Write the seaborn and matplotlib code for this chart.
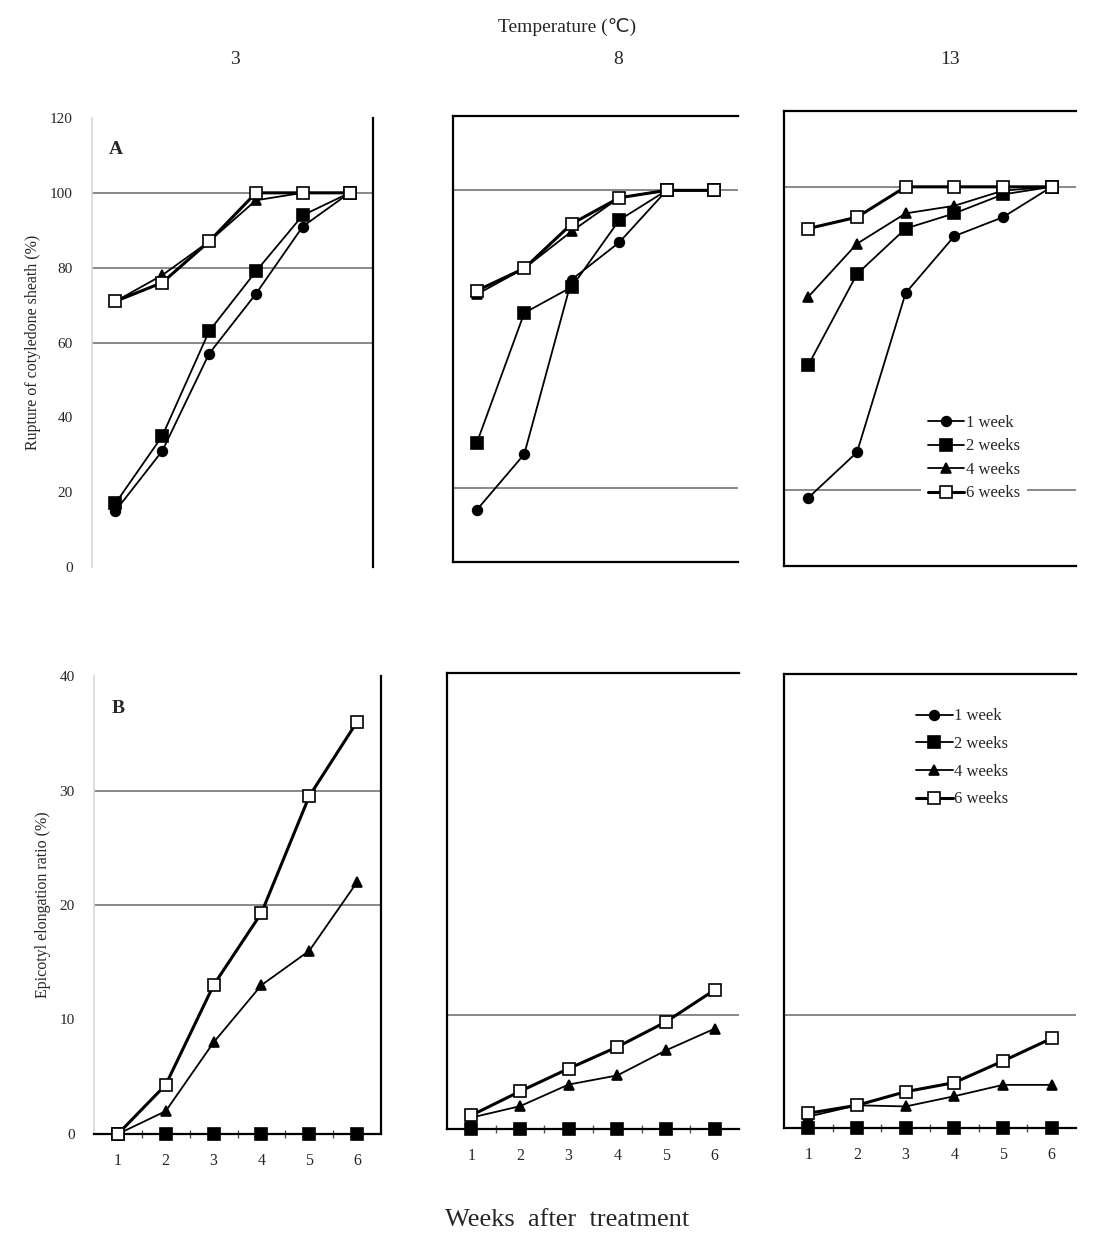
"""
Rupture of cotyledone sheath (A) and epicotyl elongation ratio (B)
at 3, 8 and 13 degrees C, by duration of cold treatment.
"""

import pandas as pd
import matplotlib.pyplot as plt
import seaborn as sns

# Data
semanas = [1, 2, 3, 4, 5, 6]
temperaturas = ['3', '8', '13']
series = ['1 week', '2 weeks', '4 weeks', '6 weeks']

# A - rupture of cotyledone sheath (%)
rupt_3 = {
    '1 week': [15, 31, 57, 73, 91, 100],
    '2 weeks': [17, 35, 63, 79, 94, 100],
    '4 weeks': [71, 78, 87, 98, 100, 100],
    '6 weeks': [71, 76, 87, 100, 100, 100],
}
rupt_8 = {
    '1 week': [14, 29, 76, 86, 100, 100],
    '2 weeks': [32, 67, 74, 92, 100, 100],
    '4 weeks': [72, 79, 89, 98, 100, 100],
    '6 weeks': [73, 79, 91, 98, 100, 100],
}
rupt_13 = {
    '1 week': [18, 30, 72, 87, 92, 100],
    '2 weeks': [53, 77, 89, 93, 98, 100],
    '4 weeks': [71, 85, 93, 95, 99, 100],
    '6 weeks': [89, 92, 100, 100, 100, 100],
}

# B - epicotyl elongation ratio (%)
elong_3 = {
    '1 week': [0, 0, 0, 0, 0, 0],
    '2 weeks': [0, 0, 0, 0, 0, 0],
    '4 weeks': [0, 2, 8, 13, 16, 22],
    '6 weeks': [0, 4.3, 13, 19.3, 29.5, 36],
}
elong_8 = {
    '1 week': [0, 0, 0, 0, 0, 0],
    '2 weeks': [0, 0, 0, 0, 0, 0],
    '4 weeks': [1.0, 2.0, 3.9, 4.7, 6.9, 8.8],
    '6 weeks': [1.2, 3.3, 5.3, 7.2, 9.4, 12.2],
}
elong_13 = {
    '1 week': [0, 0, 0, 0, 0, 0],
    '2 weeks': [0, 0, 0, 0, 0, 0],
    '4 weeks': [1.0, 2.0, 1.9, 2.8, 3.8, 3.8],
    '6 weeks': [1.3, 2.0, 3.2, 4.0, 5.9, 7.9],
}

# estilo de cada serie
estilos = {
    '1 week': dict(marker='o', markersize=7, mfc='black', lw=1.3),
    '2 weeks': dict(marker='s', markersize=9, mfc='black', lw=1.3),
    '4 weeks': dict(marker='^', markersize=7, mfc='black', lw=1.3),
    '6 weeks': dict(marker='s', markersize=8, mfc='white', lw=2.2),
}

sns.set_theme(style='white')
plt.rcParams['font.family'] = ['Liberation Serif', 'DejaVu Serif']

W, H = 1100, 1236
fig = plt.figure(figsize=(W / 100, H / 100), dpi=100)


def eixo(x0, x1, y0, y1):
    # cria eixo a partir de coordenadas em pixels
    return fig.add_axes([x0 / W, 1 - y1 / H, (x1 - x0) / W, (y1 - y0) / H])


def desenhar(ax, dados, ymax, grades):
    for yg in grades:
        ax.axhline(yg, color='#7f7f7f', lw=1.3, zorder=0)
    for nome in series:
        df = pd.DataFrame({'semana': semanas, 'valor': dados[nome]})
        e = estilos[nome]
        sns.lineplot(data=df, x='semana', y='valor', ax=ax, color='black',
                     lw=e['lw'], marker=e['marker'], markersize=e['markersize'],
                     markerfacecolor=e['mfc'], markeredgecolor='black',
                     markeredgewidth=1.2, label=nome, legend=False,
                     clip_on=False, zorder=3)
    ax.set_xlim(0.5, 6.5)
    ax.set_ylim(0, ymax)
    ax.set_xlabel('')
    ax.set_ylabel('')


def legenda(ax, pos, espaco):
    leg = ax.legend(loc='center', bbox_to_anchor=pos, frameon=True,
                    fontsize=12, handlelength=2.2, handletextpad=0.1,
                    labelspacing=espaco, borderpad=0.4, fancybox=False)
    leg.get_frame().set_facecolor('white')
    leg.get_frame().set_edgecolor('none')
    leg.get_frame().set_alpha(1)


paineis_a = [(92, 373, 118, 567), (453, 738, 116, 562), (784, 1076, 111, 566)]
paineis_b = [(94, 381, 676, 1134), (447, 739, 673, 1129), (784, 1076, 674, 1128)]
grades_a = [[60, 80, 100], [20, 100], [20, 100]]
grades_b = [[20, 30], [10], [10]]
dados_a = [rupt_3, rupt_8, rupt_13]
dados_b = [elong_3, elong_8, elong_13]

for i in range(3):
    # linha A
    ax = eixo(*paineis_a[i])
    desenhar(ax, dados_a[i], 120, grades_a[i])
    ax.set_xticks([])
    if i == 0:
        ax.set_yticks(range(0, 121, 20))
        ax.tick_params(axis='y', labelsize=11, length=0, pad=14)
        ax.spines['left'].set_color('#d9d9d9')
        ax.spines['right'].set_color('black')
        ax.spines['right'].set_linewidth(1.6)
        ax.spines['top'].set_visible(False)
        ax.spines['bottom'].set_visible(False)
        ax.set_ylabel('Rupture of cotyledone sheath (%)', fontsize=11.5, labelpad=6)
        ax.text(0.06, 0.93, 'A', transform=ax.transAxes, fontsize=14,
                fontweight='bold', ha='left', va='center')
    else:
        ax.set_yticks([])
        for lado in ['left', 'top', 'bottom']:
            ax.spines[lado].set_color('black')
            ax.spines[lado].set_linewidth(1.6)
        ax.spines['right'].set_visible(False)
    if i == 2:
        legenda(ax, (0.65, 0.237), 0.45)

    # linha B
    ax = eixo(*paineis_b[i])
    desenhar(ax, dados_b[i], 40, grades_b[i])
    ax.set_xticks(semanas)
    ax.set_xticks([1.5, 2.5, 3.5, 4.5, 5.5], minor=True)
    ax.tick_params(axis='x', which='major', labelsize=11.5, length=0, pad=14)
    ax.tick_params(axis='x', which='minor', bottom=True, length=6,
                   direction='inout', width=1, color='#555555')
    ax.spines['bottom'].set_color('black')
    ax.spines['bottom'].set_linewidth(1.6)
    if i == 0:
        ax.set_yticks(range(0, 41, 10))
        ax.tick_params(axis='y', labelsize=11, length=0, pad=14)
        ax.spines['left'].set_color('#d9d9d9')
        ax.spines['right'].set_color('black')
        ax.spines['right'].set_linewidth(1.6)
        ax.spines['top'].set_visible(False)
        ax.set_ylabel('Epicotyl elongation ratio (%)', fontsize=11.5, labelpad=6)
        ax.text(0.06, 0.93, 'B', transform=ax.transAxes, fontsize=14,
                fontweight='bold', ha='left', va='center')
    else:
        ax.set_yticks([])
        for lado in ['left', 'top']:
            ax.spines[lado].set_color('black')
            ax.spines[lado].set_linewidth(1.6)
        ax.spines['right'].set_visible(False)
    if i == 2:
        legenda(ax, (0.61, 0.815), 0.7)

# textos gerais
fig.text(567 / W, 1 - 27 / H, 'Temperature (℃)', ha='center', va='center',
         fontsize=14, family=['Liberation Serif', 'DejaVu Sans'])
for x, t in zip([235, 618, 950], temperaturas):
    fig.text(x / W, 1 - 60 / H, t, ha='center', va='center', fontsize=14)
fig.text(567 / W, 1 - 1220 / H, 'Weeks  after  treatment', ha='center',
         va='center', fontsize=19)

plt.savefig('out.png', dpi=100)
plt.close()
